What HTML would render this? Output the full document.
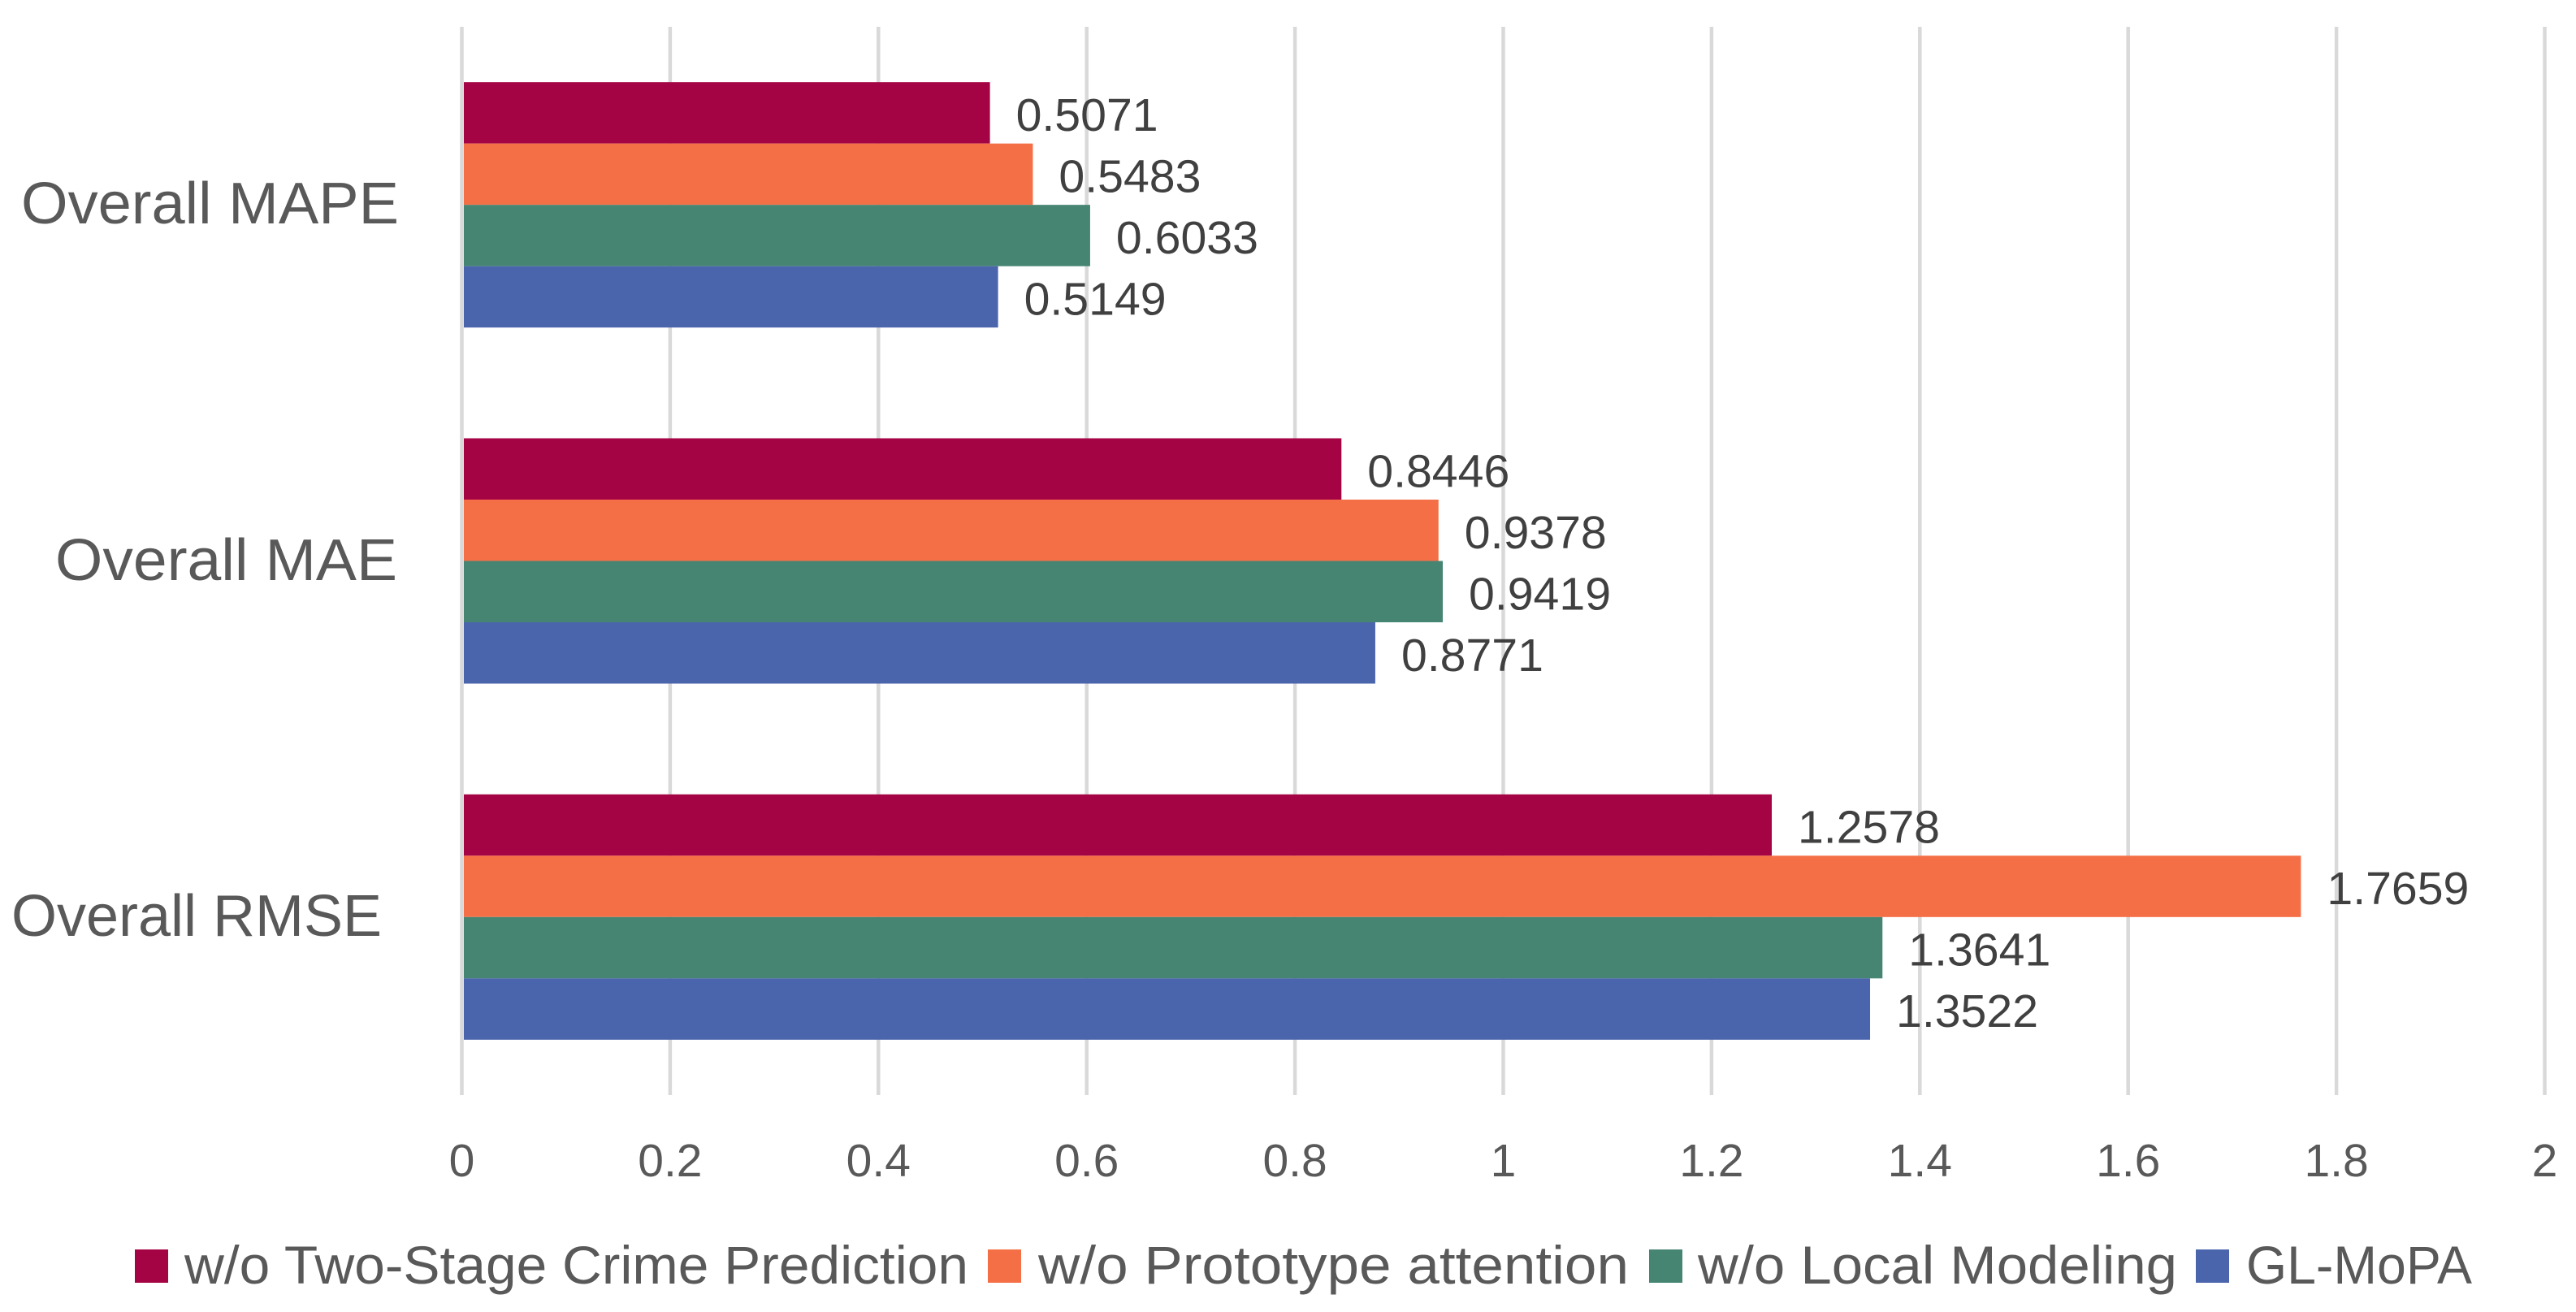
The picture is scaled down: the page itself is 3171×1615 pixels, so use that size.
<!DOCTYPE html>
<html lang="en">
<head>
<meta charset="utf-8">
<title>Ablation bar chart</title>
<style>
html,body{margin:0;padding:0;background:#fff;}
svg{display:block;}
text{font-family:"Liberation Sans",sans-serif;}
</style>
</head>
<body>
<svg id="chart" xmlns="http://www.w3.org/2000/svg" width="3171" height="1615" viewBox="0 0 3171 1615">
  <rect x="0" y="0" width="3171" height="1615" fill="#ffffff"/>
  <g id="grid"></g>
  <g id="bars"></g>
  <g id="zero"></g>
  <g id="dlabels"></g>
  <g id="xticks"></g>
  <g fill="#595959" font-size="72">
    <text x="26" y="275" textLength="465" lengthAdjust="spacingAndGlyphs">Overall MAPE</text>
    <text x="68" y="714" textLength="421" lengthAdjust="spacingAndGlyphs">Overall MAE</text>
    <text x="14" y="1152" textLength="456" lengthAdjust="spacingAndGlyphs">Overall RMSE</text>
  </g>
  <g fill="#595959" font-size="66">
    <g>
      <rect x="166" y="1538" width="41" height="41" fill="#A50444"/>
      <text x="227" y="1580" textLength="965" lengthAdjust="spacingAndGlyphs">w/o Two-Stage Crime Prediction</text>
    </g>
    <g>
      <rect x="1216" y="1538" width="41" height="41" fill="#F56F46"/>
      <text x="1278" y="1580" textLength="727" lengthAdjust="spacingAndGlyphs">w/o Prototype attention</text>
    </g>
    <g>
      <rect x="2030" y="1538" width="41" height="41" fill="#478573"/>
      <text x="2090" y="1580" textLength="590" lengthAdjust="spacingAndGlyphs">w/o Local Modeling</text>
    </g>
    <g>
      <rect x="2703" y="1538" width="41" height="41" fill="#4B65AD"/>
      <text x="2765" y="1580" textLength="278" lengthAdjust="spacingAndGlyphs">GL-MoPA</text>
    </g>
  </g>
</svg>
<script>
// Chart data
const categories = ["Overall MAPE", "Overall MAE", "Overall RMSE"];
const seriesNames = ["two-stage", "prototype", "local-modeling", "gl-mopa"];
const seriesColors = ["#A50444", "#F56F46", "#478573", "#4B65AD"];
const twoStageValues = [0.5071, 0.8446, 1.2578];
const prototypeValues = [0.5483, 0.9378, 1.7659];
const localModelingValues = [0.6033, 0.9419, 1.3641];
const glMopaValues = [0.5149, 0.8771, 1.3522];
const xTickValues = [0, 0.2, 0.4, 0.6, 0.8, 1, 1.2, 1.4, 1.6, 1.8, 2];

const seriesValues = [twoStageValues, prototypeValues, localModelingValues, glMopaValues];
const NS = "http://www.w3.org/2000/svg";

const plotTop = 33, plotBottom = 1348;
const zeroX = 568.5, pxPerUnit = 1282;
const barHeight = 75.5, barStart = 571;

function xScale(v) { return zeroX + v * pxPerUnit; }
function groupCenter(i) { return plotTop + (plotBottom - plotTop) * (i + 0.5) / categories.length; }
function barTop(i, s) { return groupCenter(i) - barHeight * seriesNames.length / 2 + s * barHeight; }

function make(tag, attrs, parent) {
  const el = document.createElementNS(NS, tag);
  for (const k in attrs) el.setAttribute(k, attrs[k]);
  parent.appendChild(el);
  return el;
}

const gridG = document.getElementById("grid");
const zeroG = document.getElementById("zero");
const barsG = document.getElementById("bars");
const labelsG = document.getElementById("dlabels");
const ticksG = document.getElementById("xticks");

xTickValues.forEach(function (t) {
  const x = xScale(t);
  const line = make("line", {x1: x, x2: x, y1: plotTop, y2: plotBottom, stroke: "#D9D9D9", "stroke-width": 4.5}, t === 0 ? zeroG : gridG);
  
  

  const label = make("text", {x: x, y: 1448, "text-anchor": "middle", "font-size": 57, fill: "#595959"}, ticksG);
  
  
  label.textContent = String(t);
});

categories.forEach(function (cat, i) {
  seriesValues.forEach(function (vals, s) {
    const v = vals[i];
    const y = barTop(i, s);
    const bar = make("rect", {x: barStart, y: y, width: xScale(v) - barStart, height: barHeight, fill: seriesColors[s]}, barsG);
    
    
    const lab = make("text", {x: xScale(v) + 32, y: y + barHeight / 2 + 22, "font-size": 57, fill: "#404040", textLength: 175, lengthAdjust: "spacingAndGlyphs"}, labelsG);
    
    
    lab.textContent = v.toFixed(4);
  });
});
</script>
</body>
</html>
